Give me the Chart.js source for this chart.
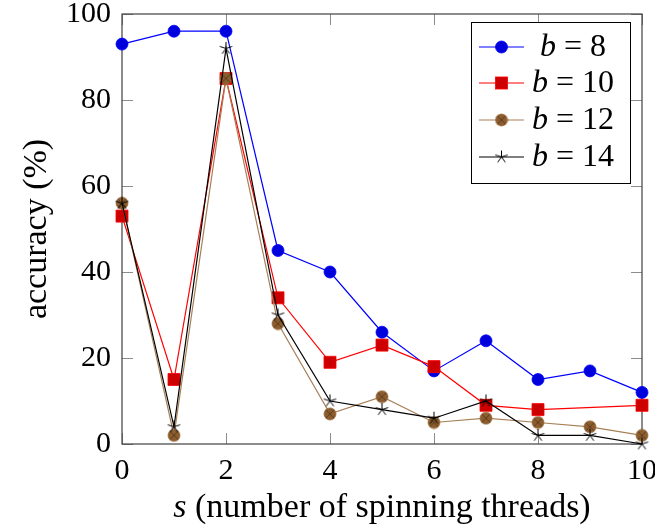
<!DOCTYPE html>
<html>
<head>
<meta charset="utf-8">
<script src="https://cdn.jsdelivr.net/npm/chart.js@4"></script>
<style>
  html, body { margin: 0; padding: 0; background: #fff; }
  #wrap { width: 655px; height: 529px; }
</style>
</head>
<body>
<div id="wrap"><canvas id="chart" width="655" height="529"></canvas></div>
<script>
// data
const sValues = [0, 1, 2, 3, 4, 5, 6, 7, 8, 9, 10];
const acc8  = [93, 96, 96, 45, 40, 26, 17, 24, 15, 17, 12];
const acc10 = [53, 15, 85, 34, 19, 23, 18, 9, 8, null, 9];
const acc12 = [56, 2, 85, 28, 7, 11, 5, 6, 5, 4, 2];
const acc14 = [56, 4, 92, 30, 10, 8, 6, 10, 2, 2, 0];
const seriesNames = ["8", "10", "12", "14"];
const xTicks = [0, 2, 4, 6, 8, 10];
const yTicks = [0, 20, 40, 60, 80, 100];

const SERIF = "'Liberation Serif', 'Times New Roman', serif";

function toPoints(arr) {
  return sValues.map((s, i) => ({ x: s, y: arr[i] }));
}

// otimes marker
function makeOtimes(r, fill, stroke) {
  const c = document.createElement("canvas");
  const size = Math.ceil(r * 2 + 2);
  c.width = size; c.height = size;
  const g = c.getContext("2d");
  const m = size / 2;
  g.beginPath();
  g.arc(m, m, r, 0, Math.PI * 2);
  g.fillStyle = fill;
  g.fill();
  g.lineWidth = 0.8;
  g.strokeStyle = stroke;
  g.stroke();
  const d = r * 0.7;
  g.beginPath();
  g.moveTo(m - d, m - d); g.lineTo(m + d, m + d);
  g.moveTo(m + d, m - d); g.lineTo(m - d, m + d);
  g.strokeStyle = "rgba(60,40,20,0.7)";
  g.lineWidth = 0.8;
  g.stroke();
  return c;
}

// 5 armed star, like pgfplots "star"
function makeStar(r, color) {
  const c = document.createElement("canvas");
  const size = Math.ceil(r * 2 + 2);
  c.width = size; c.height = size;
  const g = c.getContext("2d");
  const m = size / 2;
  g.beginPath();
  for (let k = 0; k < 5; k++) {
    const a = -Math.PI / 2 + k * 2 * Math.PI / 5;
    g.moveTo(m, m);
    g.lineTo(m + r * Math.cos(a), m + r * Math.sin(a));
  }
  g.strokeStyle = color;
  g.lineWidth = 1;
  g.stroke();
  return c;
}

const otimesImg = makeOtimes(6, "#8a5c2e", "#9a6a3a");
const starImg = makeStar(6.5, "#000");

const styles = [
  { line: "#0000ff", fill: "#0000dd", pointStyle: "circle", radius: 6 },
  { line: "#ff0000", fill: "#cc0000", pointStyle: "rect", radius: 8.5 },
  { line: "#a88058", fill: "#8a5c2e", pointStyle: otimesImg, radius: 6 },
  { line: "#000000", fill: "#000000", pointStyle: starImg, radius: 6 },
];

const allData = [acc8, acc10, acc12, acc14];

const datasets = allData.map((arr, i) => ({
  label: "b = " + seriesNames[i],
  data: toPoints(arr),
  borderColor: styles[i].line,
  backgroundColor: styles[i].fill,
  borderWidth: 1.2,
  pointStyle: styles[i].pointStyle,
  pointRadius: styles[i].radius,
  pointHoverRadius: styles[i].radius,
  pointBackgroundColor: styles[i].fill,
  pointBorderColor: styles[i].line,
  pointBorderWidth: 0.8,
  spanGaps: true,
  tension: 0,
  clip: false,
  order: 4 - i,
}));

function drawMixed(ctx, parts, cx, y, size) {
  let total = 0;
  parts.forEach((p) => {
    ctx.font = (p.italic ? "italic " : "") + size + "px " + SERIF;
    p.w = ctx.measureText(p.t).width;
    total += p.w;
  });
  let x = cx - total / 2;
  parts.forEach((p) => {
    ctx.font = (p.italic ? "italic " : "") + size + "px " + SERIF;
    ctx.fillText(p.t, x, y);
    x += p.w;
  });
}

function drawMarker(ctx, i, x, y) {
  const st = styles[i];
  if (st.pointStyle === "circle") {
    ctx.beginPath();
    ctx.arc(x, y, st.radius, 0, Math.PI * 2);
    ctx.fillStyle = st.fill;
    ctx.fill();
    ctx.lineWidth = 0.8;
    ctx.strokeStyle = st.line;
    ctx.stroke();
  } else if (st.pointStyle === "rect") {
    const h = st.radius * Math.SQRT1_2;
    ctx.fillStyle = st.fill;
    ctx.fillRect(x - h, y - h, 2 * h, 2 * h);
    ctx.lineWidth = 0.8;
    ctx.strokeStyle = st.line;
    ctx.strokeRect(x - h, y - h, 2 * h, 2 * h);
  } else {
    const img = st.pointStyle;
    ctx.drawImage(img, x - img.width / 2, y - img.height / 2);
  }
}

const framePlugin = {
  id: "frame",
  beforeDatasetsDraw(chart) {
    const ctx = chart.ctx;
    const a = chart.chartArea;
    const xs = chart.scales.x;
    const ys = chart.scales.y;
    const tl = 11;
    ctx.save();
    ctx.strokeStyle = "#8c8c8c";
    ctx.lineWidth = 1;
    ctx.beginPath();
    xTicks.forEach((v) => {
      const px = Math.round(xs.getPixelForValue(v)) + 0.5;
      ctx.moveTo(px, a.bottom); ctx.lineTo(px, a.bottom - tl);
      ctx.moveTo(px, a.top); ctx.lineTo(px, a.top + tl);
    });
    yTicks.forEach((v) => {
      const py = Math.round(ys.getPixelForValue(v)) + 0.5;
      ctx.moveTo(a.left, py); ctx.lineTo(a.left + tl, py);
      ctx.moveTo(a.right, py); ctx.lineTo(a.right - tl, py);
    });
    ctx.stroke();
    ctx.strokeStyle = "#404040";
    ctx.lineWidth = 1.2;
    ctx.strokeRect(a.left, a.top, a.right - a.left, a.bottom - a.top);
    ctx.restore();
  },
  afterDraw(chart) {
    const ctx = chart.ctx;
    const a = chart.chartArea;
    ctx.save();
    ctx.fillStyle = "#000";
    ctx.textBaseline = "alphabetic";
    // x title
    drawMixed(ctx, [{ t: "s", italic: true }, { t: " (number of spinning threads)" }],
      (a.left + a.right) / 2, 517, 34);
    // y title
    ctx.translate(46, (a.top + a.bottom) / 2);
    ctx.rotate(-Math.PI / 2);
    drawMixed(ctx, [{ t: "accuracy (%)" }], 0, 0, 34);
    ctx.restore();

    // legend box
    ctx.save();
    const lx = 471, ly = 22, lw = 159, lh = 161;
    ctx.fillStyle = "#fff";
    ctx.fillRect(lx, ly, lw, lh);
    ctx.strokeStyle = "#000";
    ctx.lineWidth = 1;
    ctx.strokeRect(lx + 0.5, ly + 0.5, lw, lh);
    const rows = [47, 83, 120, 157];
    rows.forEach((ry, i) => {
      ctx.strokeStyle = styles[i].line;
      ctx.lineWidth = 1.2;
      ctx.beginPath();
      ctx.moveTo(479, ry); ctx.lineTo(524, ry);
      ctx.stroke();
      drawMarker(ctx, i, 501.5, ry);
      ctx.fillStyle = "#000";
      ctx.textBaseline = "middle";
      drawMixed(ctx, [{ t: "b", italic: true }, { t: " = " + seriesNames[i] }], 573, ry + 1, 32);
    });
    ctx.restore();
  },
};

const ctx = document.getElementById("chart");

new Chart(ctx, {
  type: "line",
  data: { datasets: datasets },
  options: {
    responsive: false,
    animation: false,
    events: [],
    layout: { padding: { top: 14, right: 13, bottom: 0, left: 0 } },
    plugins: { legend: { display: false }, tooltip: { enabled: false } },
    scales: {
      x: {
        type: "linear",
        min: 0,
        max: 10,
        grid: { display: false, drawTicks: false },
        border: { display: false },
        ticks: {
          stepSize: 2,
          padding: 9,
          color: "#000",
          font: { family: SERIF, size: 30 },
          maxRotation: 0,
        },
        afterFit: (s) => {
          s.height = 85;
          s.paddingLeft = 0;
          s.paddingRight = 0;
        },
      },
      y: {
        min: 0,
        max: 100,
        grid: { display: false, drawTicks: false },
        border: { display: false },
        ticks: {
          stepSize: 20,
          padding: 11,
          color: "#000",
          font: { family: SERIF, size: 30 },
        },
        afterFit: (s) => {
          s.width = 122;
          s.paddingTop = 0;
          s.paddingBottom = 0;
        },
      },
    },
  },
  plugins: [framePlugin],
});
</script>
</body>
</html>
